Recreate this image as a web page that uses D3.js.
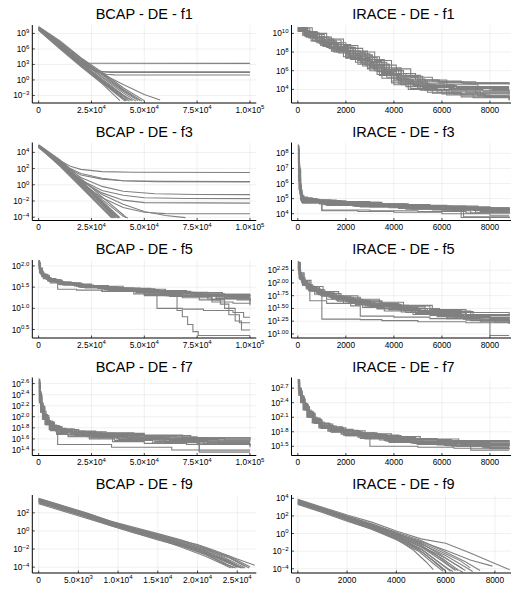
<!DOCTYPE html>
<html lang="en">
<head>
<meta charset="UTF-8" />
<title>BCAP vs IRACE - DE</title>
<script src="https://cdn.jsdelivr.net/npm/d3@7"></script>
<style>
  body { margin: 0; background: #fff; }
  svg { display: block; font-family: "Liberation Sans", Arial, sans-serif; }
</style>
</head>
<body>
<div id="chart"></div>
<script>
// each run: [evaluations, log10(objective value)]
const bcapF1 = [
  [[0,10.3],[10000,7.6],[20000,4.3],[30000,1.5],[40000,-1.5],[50000,-4.0]],
  [[0,10.2],[10000,7.3],[20000,4.0],[30000,1.0],[40000,-2.0],[48000,-4.0]],
  [[0,10.1],[10000,7.0],[20000,3.7],[30000,0.5],[40000,-2.5],[46000,-4.1]],
  [[0,10.0],[10000,6.8],[20000,3.4],[30000,0.2],[40000,-2.9],[44500,-4.0]],
  [[0,9.9],[10000,6.6],[20000,3.2],[30000,-0.1],[40000,-3.2],[43000,-4.1]],
  [[0,9.8],[10000,6.4],[20000,3.0],[30000,-0.3],[40000,-3.5],[42000,-4.0]],
  [[0,9.7],[10000,6.2],[20000,2.8],[30000,-0.5],[40000,-3.8],[41000,-4.1]],
  [[0,9.6],[10000,6.0],[20000,2.6],[30000,-0.7],[38500,-4.0]],
  [[0,10.25],[10000,7.4],[20000,4.1],[30000,1.2],[40000,-1.8],[49000,-4.1]],
  [[0,9.95],[10000,6.7],[20000,3.3],[30000,0.0],[40000,-3.0],[44000,-4.0]],
  [[0,9.75],[10000,6.3],[20000,2.9],[30000,-0.4],[40000,-3.6],[41500,-4.05]],
  [[0,10.15],[10000,7.1],[20000,3.8],[30000,0.7],[40000,-2.2],[47000,-4.0]],
  [[0,10.0],[10000,6.9],[20000,3.6],[30000,1.2],[40000,-0.9],[50000,-2.8],[57500,-3.9]],
  [[0,10.1],[10000,6.8],[17000,4.1],[20000,3.4],[23000,3.22],[100000,3.2]],
  [[0,9.9],[10000,6.5],[20000,3.3],[25000,2.1],[28000,1.7],[32000,1.58],[100000,1.56]],
  [[0,10.0],[10000,6.6],[20000,3.4],[26000,2.0],[30000,1.6],[34000,1.47],[100000,1.45]],
  [[0,10.0],[10000,6.5],[20000,3.2],[27000,1.7],[32000,1.1],[36000,0.98],[100000,0.97]]
];
const iraceF1 = [
  [[0,10.6],[400,10.0],[900,9.3],[1500,8.6],[2100,7.9],[2800,7.0],[3500,6.1],[4200,5.3],[5000,4.8],[6200,4.5],[7500,4.3],[8800,4.3]],
  [[0,10.5],[350,9.8],[800,9.1],[1300,8.4],[2000,7.6],[2600,6.8],[3300,5.9],[4000,5.0],[4800,4.4],[5800,4.0],[7000,3.7],[8800,3.7]],
  [[0,10.3],[500,9.7],[1000,9.0],[1700,8.1],[2300,7.3],[3000,6.4],[3700,5.5],[4300,4.8],[5200,4.2],[6400,3.8],[7600,3.5],[8800,3.5]],
  [[0,10.6],[300,10.2],[800,9.6],[1400,9.0],[2000,8.4],[2700,7.5],[3400,6.6],[4100,5.7],[4900,5.0],[5900,4.7],[7200,4.6],[8800,4.6]],
  [[0,10.2],[450,9.5],[1000,8.8],[1600,8.0],[2200,7.2],[2900,6.3],[3500,5.5],[4200,4.6],[5000,4.0],[6000,3.5],[7300,3.1],[8800,2.9]],
  [[0,10.4],[400,9.9],[1000,9.2],[1600,8.5],[2300,7.8],[3000,6.9],[3600,6.0],[4400,5.1],[5300,4.5],[6500,4.1],[8000,3.9],[8800,3.9]],
  [[0,10.5],[500,9.9],[1100,9.3],[1800,8.5],[2400,7.7],[3100,6.7],[3800,5.7],[4500,4.9],[5400,4.4],[6600,4.2],[8100,4.0],[8800,4.0]],
  [[0,10.3],[350,9.6],[900,8.9],[1400,8.2],[2000,7.4],[2700,6.5],[3300,5.6],[3900,4.7],[4700,4.1],[5600,3.6],[6800,3.2],[8800,2.8]],
  [[0,10.6],[600,10.0],[1200,9.4],[1900,8.7],[2500,8.0],[3200,7.1],[3900,6.2],[4700,5.3],[5600,4.9],[6800,4.7],[8800,4.7]],
  [[0,10.4],[300,9.7],[800,9.0],[1400,8.3],[2100,7.5],[2800,6.6],[3500,5.7],[4200,4.9],[5000,4.3],[6100,3.9],[7400,3.6],[8800,3.4]],
  [[0,10.2],[500,9.6],[1100,8.9],[1700,8.2],[2400,7.3],[3000,6.5],[3600,5.6],[4300,4.5],[5100,3.9],[6200,3.4],[7800,3.2],[8800,3.2]],
  [[0,10.5],[400,10.0],[900,9.4],[1500,8.8],[2200,8.1],[2900,7.2],[3600,6.3],[4300,5.5],[5100,4.6],[6100,4.3],[7600,4.1],[8800,4.1]],
  [[0,10.45],[250,9.9],[600,9.4],[1000,8.9],[1500,8.3],[2000,7.8],[2500,7.1],[3000,6.4],[3500,5.8],[4000,5.2],[4600,4.7],[5400,4.4],[6300,4.1],[7400,3.9],[8800,3.8]],
  [[0,10.35],[200,9.8],[550,9.2],[950,8.7],[1400,8.1],[1900,7.5],[2400,6.9],[2900,6.2],[3400,5.5],[3900,4.9],[4500,4.3],[5300,3.9],[6300,3.6],[7500,3.3],[8800,3.1]],
  [[0,10.55],[300,10.1],[700,9.6],[1100,9.1],[1600,8.6],[2100,8.1],[2600,7.6],[3100,6.9],[3700,6.1],[4300,5.4],[5000,5.0],[5800,4.8],[6900,4.6],[8800,4.5]],
  [[0,10.25],[350,9.7],[750,9.1],[1200,8.5],[1700,7.9],[2200,7.3],[2700,6.7],[3200,6.0],[3700,5.3],[4300,4.6],[5000,4.1],[5800,3.7],[6800,3.4],[8000,3.2],[8800,3.0]],
  [[0,10.5],[280,10.0],[650,9.5],[1050,9.0],[1550,8.4],[2050,7.8],[2550,7.2],[3050,6.6],[3550,5.9],[4100,5.1],[4700,4.6],[5500,4.2],[6500,4.0],[7700,3.8],[8800,3.6]],
  [[0,10.4],[320,9.85],[720,9.3],[1150,8.8],[1650,8.2],[2150,7.6],[2650,6.9],[3150,6.2],[3650,5.6],[4150,5.0],[4800,4.5],[5700,4.3],[6700,4.2],[8800,4.2]],
  [[0,10.3],[260,9.75],[620,9.2],[1050,8.6],[1500,8.0],[2000,7.35],[2500,6.7],[3000,6.0],[3500,5.2],[4000,4.5],[4600,4.0],[5400,3.7],[6500,3.5],[7800,3.3],[8800,3.3]],
  [[0,10.6],[380,10.1],[820,9.6],[1300,9.0],[1800,8.5],[2300,8.0],[2800,7.4],[3300,6.7],[3800,6.0],[4400,5.4],[5200,5.0],[6200,4.8],[7400,4.7],[8800,4.6]]
];
const bcapF3 = [
  [[0,4.9],[10000,2.6],[20000,0.1],[30000,-2.4],[36500,-4.1]],
  [[0,4.7],[10000,2.3],[20000,-0.3],[30000,-2.9],[34500,-4.1]],
  [[0,4.8],[10000,2.5],[20000,-0.1],[30000,-2.7],[35500,-4.1]],
  [[0,4.6],[10000,2.4],[20000,0.0],[30000,-2.5],[36000,-4.05]],
  [[0,4.85],[10000,2.7],[20000,0.3],[30000,-2.1],[38000,-4.1]],
  [[0,4.75],[10000,2.55],[20000,0.25],[30000,-2.2],[37000,-4.0]],
  [[0,4.7],[10000,2.65],[20000,0.5],[30000,-1.8],[40000,-3.9],[42300,-4.1]],
  [[0,4.95],[10000,3.1],[20000,0.8],[30000,-1.5],[40000,-3.7],[41500,-4.1]],
  [[0,4.65],[10000,2.45],[20000,-0.2],[30000,-2.8],[35000,-4.1]],
  [[0,4.8],[10000,2.9],[20000,0.4],[30000,-2.0],[38500,-4.05]],
  [[0,4.75],[10000,2.75],[20000,0.35],[30000,-2.3],[37500,-4.1]],
  [[0,4.9],[5000,3.9],[10000,3.0],[15000,2.3],[20000,1.9],[30000,1.62],[45000,1.54],[100000,1.52]],
  [[0,4.8],[10000,2.9],[15000,2.0],[20000,1.4],[30000,0.8],[40000,0.5],[55000,0.38],[100000,0.35]],
  [[0,4.85],[10000,2.85],[15000,1.9],[20000,1.2],[30000,0.7],[40000,0.5],[60000,0.42],[100000,0.4]],
  [[0,4.7],[10000,2.7],[20000,0.9],[30000,-0.2],[40000,-0.8],[55000,-1.1],[75000,-1.2],[100000,-1.22]],
  [[0,4.75],[10000,2.6],[20000,0.6],[30000,-0.7],[40000,-1.3],[50000,-1.6],[70000,-1.7],[100000,-1.71]],
  [[0,4.8],[10000,2.7],[20000,0.5],[30000,-1.0],[40000,-1.9],[50000,-2.2],[100000,-2.26]],
  [[0,4.7],[10000,2.5],[20000,0.2],[30000,-1.6],[40000,-2.8],[50000,-3.4],[60000,-3.56],[100000,-3.58]],
  [[0,4.85],[10000,2.75],[20000,0.6],[30000,-1.2],[40000,-2.4],[50000,-3.3],[60000,-3.8],[69500,-4.05]]
];
const iraceF3 = [
  [[0,8.55],[30,7.5],[70,6.3],[120,5.3],[200,4.95],[900,4.85],[2000,4.75],[3500,4.6],[5500,4.5],[7500,4.4],[8800,4.35]],
  [[0,8.3],[50,6.8],[100,5.6],[160,4.9],[600,4.8],[1500,4.65],[3000,4.5],[4800,4.4],[6500,4.3],[8800,4.25]],
  [[0,7.8],[40,6.6],[90,5.4],[150,4.8],[1000,4.7],[2200,4.55],[4000,4.45],[6000,4.3],[8000,4.15],[8800,4.15]],
  [[0,8.0],[60,6.4],[110,5.1],[200,4.7],[1200,4.55],[2600,4.45],[4200,4.35],[6000,4.2],[7200,4.05],[8800,4.0]],
  [[0,6.5],[50,5.6],[120,4.95],[500,4.85],[1800,4.7],[3200,4.55],[5000,4.45],[6800,4.35],[8800,4.3]],
  [[0,8.4],[30,7.0],[80,5.8],[140,5.0],[700,4.75],[1000,4.25],[3000,4.2],[5000,4.15],[7000,4.05],[8800,4.0]],
  [[0,7.2],[70,5.8],[130,5.0],[800,4.8],[2000,4.6],[3800,4.5],[5800,4.35],[7800,4.25],[8800,4.2]],
  [[0,8.1],[50,6.7],[100,5.3],[170,4.8],[900,4.65],[2500,4.5],[4500,4.3],[6200,4.15],[6800,3.75],[8800,3.7]],
  [[0,7.5],[40,6.2],[110,5.2],[250,4.9],[1400,4.8],[2800,4.65],[4600,4.5],[6400,4.4],[8200,4.3],[8800,4.3]],
  [[0,8.2],[60,6.9],[120,5.5],[180,4.85],[1100,4.6],[2400,4.5],[4300,4.4],[6300,4.25],[8000,4.1],[8800,4.05]],
  [[0,8.45],[40,7.1],[90,5.9],[150,5.05],[600,4.9],[1600,4.75],[3400,4.6],[5200,4.5],[7000,4.4],[8800,4.35]],
  [[0,7.9],[55,6.4],[100,5.4],[160,4.9],[1000,4.2],[2500,4.15],[4000,4.1],[6000,4.0],[8000,3.9],[8800,3.9]],
  [[0,8.35],[45,7.0],[95,5.7],[150,4.95],[800,4.85],[1800,4.7],[3200,4.55],[5000,4.45],[6800,4.35],[8800,4.25]],
  [[0,7.6],[50,6.3],[100,5.3],[170,4.75],[1000,4.65],[2300,4.5],[3800,4.4],[5600,4.25],[7400,4.1],[8800,4.05]],
  [[0,8.0],[40,6.9],[85,5.8],[140,4.98],[700,4.88],[1700,4.8],[3000,4.65],[4500,4.55],[6200,4.45],[8000,4.35],[8800,4.33]],
  [[0,6.9],[60,5.7],[120,4.9],[600,4.75],[1600,4.6],[3000,4.45],[4700,4.3],[6400,4.2],[6900,3.8],[8800,3.75]],
  [[0,8.5],[35,7.3],[75,6.0],[125,5.1],[400,4.9],[1300,4.78],[2700,4.62],[4300,4.52],[6100,4.4],[7900,4.3],[8800,4.3]],
  [[0,7.4],[55,6.1],[110,5.1],[200,4.8],[1200,4.68],[2600,4.55],[4100,4.45],[5700,4.35],[7300,4.22],[8800,4.18]],
  [[0,8.25],[50,6.9],[100,5.6],[160,4.9],[900,4.8],[2100,4.62],[3600,4.48],[5300,4.38],[7100,4.28],[8800,4.2]],
  [[0,7.7],[45,6.4],[95,5.4],[155,4.85],[1000,4.72],[2400,4.58],[4000,4.42],[5800,4.3],[7600,4.15],[8800,4.1]]
];
const bcapF5 = [
  [[0,2.1],[500,1.9],[1500,1.8],[3500,1.7],[8000,1.62],[15000,1.57],[25000,1.52],[40000,1.45],[60000,1.38],[80000,1.33],[100000,1.31]],
  [[0,2.05],[800,1.85],[2500,1.72],[6000,1.63],[12000,1.55],[22000,1.48],[35000,1.42],[52000,1.36],[70000,1.3],[88000,1.25],[100000,1.25]],
  [[0,2.12],[400,1.95],[1800,1.78],[5000,1.66],[11000,1.58],[20000,1.5],[32000,1.44],[48000,1.38],[65000,1.32],[85000,1.27],[100000,1.27]],
  [[0,2.0],[700,1.82],[2200,1.7],[5500,1.6],[9000,1.45],[18000,1.43],[30000,1.4],[45000,1.34],[62000,1.28],[80000,1.22],[100000,1.2]],
  [[0,2.08],[600,1.88],[2000,1.75],[5000,1.65],[10000,1.58],[18000,1.53],[30000,1.4],[50000,1.33],[68000,1.25],[82000,1.15],[92000,1.12],[100000,1.1]],
  [[0,2.1],[300,1.92],[1200,1.8],[4000,1.68],[9000,1.6],[17000,1.53],[28000,1.47],[42000,1.41],[58000,1.35],[75000,1.3],[90000,1.28],[100000,1.28]],
  [[0,2.02],[500,1.86],[1500,1.75],[4500,1.64],[10000,1.56],[20000,1.5],[33000,1.42],[50000,1.3],[65500,0.95],[68000,0.8],[70500,0.62],[73000,0.45],[75500,0.36],[100000,0.36]],
  [[0,2.06],[700,1.87],[2000,1.76],[5000,1.66],[11000,1.58],[21000,1.51],[34000,1.45],[48000,1.39],[60000,1.3],[76000,1.2],[86000,1.1],[90000,0.85],[95000,0.66],[100000,0.66]],
  [[0,2.04],[450,1.87],[1600,1.76],[4200,1.66],[9500,1.57],[19000,1.5],[31000,1.44],[46000,1.37],[64000,1.28],[82000,1.2],[88000,1.0],[93000,0.7],[96000,0.49],[100000,0.49]],
  [[0,2.09],[550,1.9],[1700,1.78],[4600,1.67],[10500,1.59],[19500,1.52],[30000,1.46],[44000,1.4],[56000,1.0],[68000,0.98],[78000,0.95],[92000,0.9],[97000,0.79],[100000,0.79]],
  [[0,2.03],[650,1.84],[2100,1.73],[5200,1.64],[11500,1.56],[21000,1.49],[34000,1.43],[50000,1.37],[66000,1.3],[84000,1.23],[100000,1.18]],
  [[0,2.11],[350,1.93],[1300,1.79],[3800,1.69],[8500,1.61],[16000,1.55],[26000,1.5],[38000,1.46],[55000,1.4],[72000,1.34],[88000,1.3],[100000,1.29]],
  [[0,2.07],[600,1.89],[1900,1.77],[4800,1.66],[10000,1.6],[20000,1.54],[33000,1.48],[48000,1.42],[64000,1.36],[80000,1.3],[100000,1.26]],
  [[0,2.05],[600,1.87],[1800,1.75],[4500,1.65],[9500,1.58],[18000,1.52],[29000,1.47],[43000,1.41],[60000,1.35],[77000,1.29],[92000,1.24],[100000,1.22]],
  [[0,2.1],[400,1.91],[1400,1.79],[4000,1.68],[9000,1.6],[17000,1.54],[27000,1.49],[40000,1.44],[57000,1.38],[74000,1.32],[90000,1.3],[100000,1.3]],
  [[0,2.0],[750,1.83],[2300,1.72],[5600,1.63],[11500,1.56],[21500,1.5],[34000,1.44],[49000,1.38],[66000,1.31],[84000,1.24],[100000,1.15]],
  [[0,2.06],[520,1.88],[1700,1.77],[4300,1.67],[9800,1.59],[19000,1.53],[30000,1.48],[45000,1.42],[61000,1.36],[78000,1.3],[94000,1.2],[100000,1.07]],
  [[0,2.13],[300,1.95],[1100,1.81],[3300,1.7],[7800,1.62],[15500,1.56],[25000,1.51],[37000,1.47],[53000,1.42],[70000,1.37],[87000,1.33],[100000,1.33]]
];
const iraceF5 = [
  [[0,2.4],[60,2.2],[150,2.05],[300,1.95],[600,1.85],[1000,1.78],[1600,1.7],[2400,1.64],[3400,1.58],[4300,1.5],[5500,1.42],[7000,1.36],[8800,1.35]],
  [[0,2.35],[80,2.15],[200,2.0],[400,1.9],[800,1.8],[1300,1.72],[2000,1.63],[2800,1.55],[3800,1.48],[5000,1.4],[6500,1.33],[8000,1.28],[8800,1.28]],
  [[0,2.3],[50,2.1],[180,1.98],[350,1.88],[700,1.78],[1200,1.68],[1900,1.6],[2700,1.52],[3600,1.45],[4800,1.38],[6200,1.3],[7600,1.24],[8800,1.22]],
  [[0,2.38],[100,2.18],[250,2.02],[500,1.92],[900,1.82],[1500,1.74],[2200,1.66],[3000,1.6],[4100,1.53],[5300,1.46],[6800,1.38],[8800,1.35]],
  [[0,2.25],[70,2.08],[200,1.95],[450,1.85],[1000,1.29],[2600,1.28],[3500,1.26],[5000,1.24],[7000,1.22],[8800,1.2]],
  [[0,2.42],[40,2.25],[120,2.1],[300,1.97],[600,1.87],[1100,1.79],[1800,1.72],[2600,1.65],[3500,1.6],[4200,1.56],[5600,1.45],[7200,1.38],[8800,1.36]],
  [[0,2.33],[90,2.12],[220,1.99],[480,1.88],[950,1.76],[1600,1.66],[2400,1.58],[3300,1.5],[4500,1.42],[5800,1.34],[7200,1.26],[8800,1.2]],
  [[0,2.36],[60,2.16],[160,2.03],[400,1.9],[850,1.8],[1400,1.71],[2100,1.64],[3000,1.56],[4000,1.5],[5400,1.42],[7000,1.33],[8000,0.97],[8800,0.97]],
  [[0,2.28],[80,2.1],[250,1.96],[500,1.86],[1000,1.75],[1700,1.67],[2500,1.6],[3400,1.53],[4400,1.46],[5600,1.39],[7000,1.32],[8800,1.3]],
  [[0,2.4],[110,2.2],[260,2.05],[550,1.93],[1050,1.83],[1700,1.75],[2500,1.68],[3400,1.62],[4400,1.55],[5500,1.48],[7000,1.42],[8800,1.38]],
  [[0,2.32],[70,2.12],[190,2.0],[420,1.9],[500,1.65],[1200,1.6],[2200,1.55],[2600,1.35],[4000,1.33],[5500,1.3],[7000,1.27],[8800,1.25]],
  [[0,2.3],[90,2.1],[220,1.97],[480,1.87],[900,1.79],[1500,1.72],[2300,1.62],[3200,1.55],[4200,1.47],[5400,1.4],[6800,1.34],[8000,1.3],[8800,1.3]],
  [[0,2.37],[70,2.17],[180,2.02],[380,1.92],[750,1.83],[1250,1.75],[1900,1.68],[2700,1.6],[3600,1.53],[4700,1.45],[6000,1.38],[7500,1.32],[8800,1.3]],
  [[0,2.31],[85,2.11],[210,1.98],[460,1.87],[880,1.78],[1450,1.69],[2150,1.61],[3000,1.54],[3900,1.48],[5100,1.41],[6500,1.35],[8000,1.28],[8800,1.26]],
  [[0,2.39],[55,2.19],[140,2.05],[330,1.94],[680,1.84],[1150,1.76],[1800,1.69],[2600,1.63],[3500,1.56],[4600,1.5],[5900,1.44],[7300,1.38],[8800,1.37]],
  [[0,2.27],[100,2.07],[240,1.95],[520,1.84],[1000,1.74],[1650,1.64],[2400,1.57],[3300,1.49],[4300,1.43],[5500,1.36],[6900,1.29],[8200,1.23],[8800,1.21]],
  [[0,2.34],[65,2.14],[170,2.01],[360,1.91],[780,1.81],[1350,1.73],[2000,1.66],[2900,1.58],[3900,1.52],[5000,1.44],[6400,1.37],[7800,1.33],[8800,1.31]],
  [[0,2.29],[75,2.09],[200,1.96],[440,1.86],[860,1.77],[1400,1.69],[2100,1.62],[2900,1.55],[3800,1.47],[4900,1.4],[6200,1.33],[7700,1.27],[8800,1.24]]
];
const bcapF7 = [
  [[0,2.68],[500,2.45],[1200,2.25],[2200,2.1],[3500,1.98],[5000,1.9],[7500,1.82],[11000,1.76],[18000,1.72],[30000,1.68],[50000,1.64],[75000,1.6],[100000,1.6]],
  [[0,2.6],[600,2.35],[1500,2.15],[2800,2.0],[4500,1.88],[7000,1.8],[10000,1.74],[16000,1.69],[26000,1.65],[42000,1.6],[65000,1.56],[85000,1.52],[100000,1.52]],
  [[0,2.55],[400,2.3],[1000,2.12],[2000,1.98],[3500,1.86],[5500,1.78],[9000,1.5],[34000,1.5],[34500,1.45],[62000,1.45],[63000,1.4],[100000,1.4]],
  [[0,2.65],[450,2.4],[1100,2.2],[2100,2.05],[3300,1.93],[5200,1.84],[8000,1.77],[12000,1.72],[20000,1.68],[32000,1.64],[48000,1.6],[70000,1.56],[100000,1.55]],
  [[0,2.58],[550,2.33],[1300,2.15],[2500,2.0],[4000,1.88],[6500,1.79],[10000,1.72],[17000,1.66],[28000,1.62],[44000,1.58],[60000,1.54],[80000,1.5],[100000,1.48]],
  [[0,2.5],[350,2.28],[900,2.1],[1800,1.96],[3000,1.86],[5000,1.77],[8500,1.7],[14000,1.65],[24000,1.62],[38000,1.59],[55000,1.55],[76000,1.38],[100000,1.38]],
  [[0,2.62],[700,2.38],[1600,2.18],[3000,2.02],[4800,1.9],[7200,1.82],[11000,1.77],[19000,1.73],[32000,1.7],[50000,1.66],[72000,1.62],[100000,1.6]],
  [[0,2.45],[400,2.25],[1000,2.08],[2000,1.95],[3400,1.85],[5500,1.75],[8500,1.68],[14000,1.64],[24000,1.6],[36000,1.57],[54000,1.53],[76000,1.36],[100000,1.36]],
  [[0,2.66],[500,2.42],[1400,2.2],[2600,2.04],[4200,1.92],[6800,1.83],[10500,1.78],[17000,1.74],[27000,1.71],[45000,1.67],[68000,1.62],[100000,1.58]],
  [[0,2.55],[650,2.3],[1500,2.12],[2700,1.99],[4300,1.88],[6800,1.8],[10000,1.72],[15000,1.68],[25000,1.64],[35000,1.55],[50000,1.52],[70000,1.5],[100000,1.47]],
  [[0,2.6],[500,2.36],[1200,2.17],[2300,2.02],[3800,1.9],[6000,1.82],[9500,1.76],[16000,1.71],[27000,1.67],[40000,1.63],[60000,1.59],[85000,1.56],[100000,1.56]],
  [[0,2.52],[420,2.3],[1050,2.12],[2100,1.98],[3600,1.87],[5700,1.79],[9000,1.73],[15000,1.7],[26000,1.66],[40000,1.62],[62000,1.57],[80000,1.53],[100000,1.53]],
  [[0,2.64],[480,2.4],[1150,2.21],[2200,2.05],[3600,1.93],[5600,1.85],[8500,1.79],[13000,1.74],[22000,1.7],[36000,1.66],[56000,1.62],[78000,1.58],[100000,1.57]],
  [[0,2.57],[600,2.32],[1400,2.14],[2600,2.0],[4100,1.89],[6400,1.81],[9800,1.75],[16000,1.7],[26000,1.66],[39000,1.62],[58000,1.58],[80000,1.54],[100000,1.54]],
  [[0,2.48],[380,2.27],[950,2.1],[1900,1.97],[3200,1.87],[5200,1.79],[8200,1.73],[13500,1.68],[23000,1.64],[37000,1.6],[57000,1.56],[78000,1.51],[100000,1.5]],
  [[0,2.63],[550,2.38],[1300,2.19],[2400,2.04],[3900,1.92],[6200,1.84],[9700,1.78],[16000,1.73],[27000,1.69],[43000,1.65],[65000,1.61],[88000,1.58],[100000,1.58]],
  [[0,2.53],[450,2.29],[1100,2.11],[2200,1.97],[3700,1.86],[5900,1.78],[9200,1.72],[15000,1.67],[25000,1.63],[38000,1.59],[56000,1.55],[75000,1.51],[100000,1.45]]
];
const iraceF7 = [
  [[0,2.88],[50,2.7],[120,2.55],[220,2.4],[350,2.25],[550,2.1],[800,2.0],[1100,1.92],[1600,1.85],[2300,1.78],[3200,1.72],[4300,1.66],[5800,1.62],[7400,1.6],[8800,1.6]],
  [[0,2.8],[70,2.62],[160,2.46],[280,2.3],[450,2.15],[700,2.02],[1000,1.93],[1500,1.84],[2100,1.77],[2900,1.7],[4000,1.63],[5200,1.58],[6800,1.54],[8800,1.5]],
  [[0,2.84],[60,2.66],[140,2.5],[250,2.34],[420,2.18],[650,2.05],[950,1.9],[1400,1.8],[2000,1.72],[2800,1.65],[3800,1.58],[5000,1.54],[6600,1.5],[8000,1.46],[8800,1.46]],
  [[0,2.75],[50,2.58],[130,2.42],[240,2.27],[400,2.12],[620,2.0],[900,1.92],[1300,1.86],[1900,1.8],[2700,1.74],[3700,1.68],[4900,1.64],[6400,1.6],[8800,1.58]],
  [[0,2.86],[80,2.64],[180,2.48],[300,2.32],[480,2.18],[720,2.05],[1000,1.96],[1450,1.88],[2000,1.82],[2800,1.76],[3900,1.7],[5100,1.65],[6700,1.62],[8800,1.6]],
  [[0,2.78],[60,2.6],[150,2.44],[260,2.28],[430,2.12],[660,1.99],[950,1.88],[1350,1.8],[1900,1.73],[2600,1.66],[3000,1.5],[4000,1.5],[5000,1.48],[6500,1.46],[8800,1.44]],
  [[0,2.82],[70,2.64],[170,2.47],[290,2.31],[460,2.16],[700,2.03],[980,1.94],[1400,1.85],[2000,1.77],[2700,1.71],[3600,1.65],[4700,1.6],[6000,1.56],[7300,1.52],[8800,1.5]],
  [[0,2.7],[50,2.55],[120,2.4],[220,2.25],[380,2.1],[600,1.98],[880,1.88],[1250,1.81],[1800,1.75],[2500,1.69],[3400,1.63],[4500,1.58],[5800,1.53],[7200,1.42],[8800,1.42]],
  [[0,2.85],[60,2.68],[150,2.52],[270,2.36],[430,2.2],[660,2.07],[950,1.97],[1350,1.88],[1900,1.81],[2600,1.75],[3500,1.69],[4600,1.63],[6200,1.58],[8000,1.55],[8800,1.55]],
  [[0,2.8],[75,2.62],[170,2.45],[290,2.29],[460,2.14],[700,2.01],[1000,1.91],[1400,1.83],[1950,1.76],[2700,1.7],[3700,1.64],[4900,1.57],[6300,1.52],[7800,1.48],[8800,1.48]],
  [[0,2.88],[55,2.7],[130,2.54],[240,2.38],[400,2.22],[620,2.08],[900,1.98],[1300,1.9],[1850,1.83],[2500,1.78],[3300,1.73],[4200,1.58],[5500,1.56],[7000,1.54],[8800,1.53]],
  [[0,2.76],[65,2.58],[155,2.42],[270,2.26],[440,2.11],[670,1.99],[960,1.89],[1350,1.82],[1950,1.75],[2700,1.68],[3600,1.62],[4700,1.57],[6100,1.52],[7700,1.47],[8800,1.47]],
  [[0,2.83],[60,2.65],[145,2.49],[260,2.33],[420,2.17],[640,2.04],[930,1.94],[1330,1.86],[1880,1.79],[2550,1.73],[3450,1.67],[4550,1.61],[5900,1.57],[7500,1.53],[8800,1.52]],
  [[0,2.74],[70,2.57],[160,2.41],[280,2.25],[450,2.1],[690,1.97],[990,1.87],[1400,1.79],[1980,1.72],[2750,1.66],[3750,1.6],[4950,1.55],[6400,1.5],[8000,1.45],[8800,1.44]],
  [[0,2.87],[55,2.69],[135,2.53],[245,2.37],[410,2.21],[630,2.08],[920,1.97],[1320,1.89],[1870,1.82],[2550,1.76],[3450,1.7],[4500,1.64],[5900,1.6],[7600,1.57],[8800,1.56]],
  [[0,2.79],[65,2.61],[155,2.45],[275,2.29],[445,2.13],[680,2.0],[980,1.9],[1380,1.82],[1940,1.74],[2680,1.67],[3650,1.61],[4800,1.56],[6200,1.51],[7900,1.49],[8800,1.49]],
  [[0,2.72],[50,2.56],[125,2.41],[230,2.26],[390,2.11],[610,1.99],[890,1.9],[1280,1.83],[1820,1.77],[2520,1.71],[3420,1.66],[4520,1.61],[5850,1.57],[7400,1.56],[8800,1.55]]
];
const bcapF9 = [
  [[0,3.5],[3000,2.7],[6000,1.9],[9000,1.0],[12000,0.2],[15000,-0.5],[18000,-1.3],[21000,-2.2],[24000,-3.3],[25500,-4.1]],
  [[0,3.2],[3000,2.3],[6000,1.6],[9000,0.7],[12000,-0.1],[15000,-0.8],[18000,-1.6],[21000,-2.6],[23500,-3.6],[24500,-4.1]],
  [[0,3.4],[3000,2.6],[6000,1.7],[9000,0.9],[12000,0.1],[15000,-0.6],[18000,-1.4],[21000,-2.3],[24000,-3.5],[25000,-4.05]],
  [[0,3.0],[3000,2.2],[6000,1.4],[9000,0.6],[12000,-0.2],[15000,-0.9],[18000,-1.8],[21000,-2.8],[23000,-3.6],[24200,-4.1]],
  [[0,3.6],[3000,2.8],[6000,2.0],[9000,1.1],[12000,0.4],[15000,-0.3],[18000,-1.0],[21000,-1.9],[24000,-2.9],[26500,-4.1]],
  [[0,3.3],[3000,2.5],[6000,1.8],[9000,0.8],[12000,0.0],[15000,-0.7],[18000,-1.5],[21000,-2.4],[24000,-3.6],[25200,-4.0]],
  [[0,3.45],[3000,2.65],[6000,1.85],[9000,1.0],[12000,0.3],[15000,-0.4],[18000,-1.1],[20000,-1.5],[22000,-2.1],[25000,-3.1],[27200,-3.8]],
  [[0,3.1],[3000,2.4],[6000,1.5],[9000,0.6],[12000,-0.2],[15000,-1.0],[18000,-1.7],[21000,-2.6],[23500,-3.7],[24800,-4.1]],
  [[0,3.35],[3000,2.55],[6000,1.75],[9000,0.95],[12000,0.15],[15000,-0.55],[18000,-1.35],[21000,-2.1],[24000,-3.0],[26000,-3.9]],
  [[0,3.25],[3000,2.45],[6000,1.65],[9000,0.75],[12000,0.0],[15000,-0.75],[18000,-1.55],[21000,-2.5],[23800,-3.5],[25800,-4.1]],
  [[0,3.5],[3000,2.75],[6000,1.95],[9000,1.1],[12000,0.25],[15000,-0.45],[18000,-1.2],[21000,-2.0],[24000,-2.8],[26600,-3.95]],
  [[0,3.3],[3000,2.5],[6000,1.7],[9000,0.85],[12000,0.05],[15000,-0.65],[18000,-1.45],[21000,-2.35],[24000,-3.4],[25600,-4.1]],
  [[0,3.15],[3000,2.35],[6000,1.55],[9000,0.7],[12000,-0.1],[15000,-0.85],[18000,-1.65],[21000,-2.55],[23700,-3.7],[24700,-4.05]],
  [[0,3.55],[3000,2.75],[6000,1.9],[9000,1.05],[12000,0.3],[15000,-0.4],[18000,-1.15],[21000,-2.0],[24000,-3.2],[26000,-4.1]],
  [[0,3.4],[3000,2.6],[6000,1.8],[9000,0.9],[12000,0.15],[15000,-0.6],[18000,-1.4],[21000,-2.3],[24000,-3.4],[25400,-4.05]]
];
const iraceF9 = [
  [[0,3.8],[1000,2.9],[2000,2.0],[3000,1.1],[4000,0.1],[5000,-1.1],[5800,-2.4],[6400,-3.5],[6800,-4.2]],
  [[0,3.5],[1000,2.6],[2000,1.7],[3000,0.8],[4000,-0.3],[4800,-1.6],[5400,-2.9],[5900,-4.1]],
  [[0,3.6],[1000,2.7],[2000,1.8],[3000,0.9],[4000,-0.1],[5000,-1.3],[5700,-2.6],[6200,-3.7],[6500,-4.2]],
  [[0,3.3],[1000,2.4],[2000,1.4],[3000,0.5],[4000,-0.6],[4700,-1.9],[5200,-3.2],[5500,-4.1]],
  [[0,3.9],[1000,3.0],[2000,2.1],[3000,1.3],[4000,0.3],[5000,-0.6],[6000,-1.1],[7000,-2.2],[8000,-3.4],[8600,-4.1]],
  [[0,3.7],[1000,2.8],[2000,1.9],[3000,1.0],[4000,0.0],[5000,-0.9],[6000,-1.9],[7000,-3.0],[7900,-3.7]],
  [[0,3.4],[1000,2.5],[2000,1.6],[3000,0.7],[4000,-0.4],[5000,-1.7],[5600,-3.0],[6100,-4.0],[6300,-4.3]],
  [[0,3.55],[1000,2.65],[2000,1.75],[3000,0.85],[4000,-0.2],[5000,-1.4],[6000,-2.8],[6700,-4.0]],
  [[0,3.75],[1000,2.85],[2000,1.95],[3000,1.05],[4000,0.15],[5000,-0.8],[6000,-2.1],[6800,-3.2],[7400,-4.2]],
  [[0,3.45],[1000,2.55],[2000,1.55],[3000,0.6],[4000,-0.5],[4900,-1.8],[5600,-3.3],[6000,-4.2]],
  [[0,3.65],[1000,2.75],[2000,1.85],[3000,0.95],[4000,-0.05],[5000,-1.0],[6000,-2.3],[6600,-3.1],[7000,-3.9]],
  [[0,3.5],[1000,2.6],[2000,1.6],[3000,0.7],[4000,-0.3],[5000,-1.5],[5800,-3.0],[6400,-4.2]],
  [[0,3.6],[1000,2.7],[2000,1.7],[3000,0.7],[4000,-0.4],[5000,-1.8],[5700,-3.2],[6200,-4.3]],
  [[0,3.4],[1000,2.5],[2000,1.5],[3000,0.5],[4000,-0.7],[4900,-2.0],[5500,-3.4],[5900,-4.3]],
  [[0,3.7],[1000,2.8],[2000,1.8],[3000,0.8],[4000,-0.3],[5000,-1.5],[5900,-2.9],[6500,-4.1],[6700,-4.4]],
  [[0,3.5],[1000,2.6],[2000,1.6],[3000,0.6],[4000,-0.6],[5000,-2.0],[5700,-3.5],[6000,-4.3]],
  [[0,3.8],[1000,2.9],[2000,1.9],[3000,1.0],[4000,-0.1],[5000,-1.2],[6000,-2.5],[6800,-3.8],[7100,-4.3]]
];

// tick values and labels ([base, superscript])
const xTicksBcap = [0, 25000, 50000, 75000, 100000];
const xLabelsBcap = [["0",""],["2.5×10","4"],["5.0×10","4"],["7.5×10","4"],["1.0×10","5"]];
const xTicksBcapF9 = [0, 5000, 10000, 15000, 20000, 25000];
const xLabelsBcapF9 = [["0",""],["5.0×10","3"],["1.0×10","4"],["1.5×10","4"],["2.0×10","4"],["2.5×10","4"]];
const xTicksIrace = [0, 2000, 4000, 6000, 8000];
const xLabelsIrace = [["0",""],["2000",""],["4000",""],["6000",""],["8000",""]];

const yTicksBcapF1 = [9, 6, 3, 0, -3];
const yLabelsBcapF1 = ["9", "6", "3", "0", "−3"];
const yTicksIraceF1 = [10, 8, 6, 4];
const yLabelsIraceF1 = ["10", "8", "6", "4"];
const yTicksBcapF3 = [4, 2, 0, -2, -4];
const yLabelsBcapF3 = ["4", "2", "0", "−2", "−4"];
const yTicksIraceF3 = [8, 7, 6, 5, 4];
const yLabelsIraceF3 = ["8", "7", "6", "5", "4"];
const yTicksBcapF5 = [2.0, 1.5, 1.0, 0.5];
const yLabelsBcapF5 = ["2.0", "1.5", "1.0", "0.5"];
const yTicksIraceF5 = [2.25, 2.0, 1.75, 1.5, 1.25, 1.0];
const yLabelsIraceF5 = ["2.25", "2.00", "1.75", "1.50", "1.25", "1.00"];
const yTicksBcapF7 = [2.6, 2.4, 2.2, 2.0, 1.8, 1.6, 1.4];
const yLabelsBcapF7 = ["2.6", "2.4", "2.2", "2.0", "1.8", "1.6", "1.4"];
const yTicksIraceF7 = [2.7, 2.4, 2.1, 1.8, 1.5];
const yLabelsIraceF7 = ["2.7", "2.4", "2.1", "1.8", "1.5"];
const yTicksBcapF9 = [2, 0, -2, -4];
const yLabelsBcapF9 = ["2", "0", "−2", "−4"];
const yTicksIraceF9 = [4, 2, 0, -2, -4];
const yLabelsIraceF9 = ["4", "2", "0", "−2", "−4"];

const titles = ["BCAP - DE - f1", "IRACE - DE - f1", "BCAP - DE - f3", "IRACE - DE - f3",
  "BCAP - DE - f5", "IRACE - DE - f5", "BCAP - DE - f7", "IRACE - DE - f7",
  "BCAP - DE - f9", "IRACE - DE - f9"];

// axis limits (x in evaluations, y in log10)
const panels = [
  { runs: bcapF1, step: false, xDom: [-3000, 103000], yLim: [-4.46, 10.63], xt: xTicksBcap, xl: xLabelsBcap, yt: yTicksBcapF1, yl: yLabelsBcapF1 },
  { runs: iraceF1, step: true, xDom: [-264, 9064], yLim: [2.54, 10.9], xt: xTicksIrace, xl: xLabelsIrace, yt: yTicksIraceF1, yl: yLabelsIraceF1 },
  { runs: bcapF3, step: false, xDom: [-3000, 103000], yLim: [-4.41, 5.22], xt: xTicksBcap, xl: xLabelsBcap, yt: yTicksBcapF3, yl: yLabelsBcapF3 },
  { runs: iraceF3, step: true, xDom: [-264, 9064], yLim: [3.55, 8.72], xt: xTicksIrace, xl: xLabelsIrace, yt: yTicksIraceF3, yl: yLabelsIraceF3 },
  { runs: bcapF5, step: true, xDom: [-3000, 103000], yLim: [0.3, 2.14], xt: xTicksBcap, xl: xLabelsBcap, yt: yTicksBcapF5, yl: yLabelsBcapF5 },
  { runs: iraceF5, step: true, xDom: [-264, 9064], yLim: [0.92, 2.45], xt: xTicksIrace, xl: xLabelsIrace, yt: yTicksIraceF5, yl: yLabelsIraceF5 },
  { runs: bcapF7, step: true, xDom: [-3000, 103000], yLim: [1.3, 2.71], xt: xTicksBcap, xl: xLabelsBcap, yt: yTicksBcapF7, yl: yLabelsBcapF7 },
  { runs: iraceF7, step: true, xDom: [-264, 9064], yLim: [1.31, 2.92], xt: xTicksIrace, xl: xLabelsIrace, yt: yTicksIraceF7, yl: yLabelsIraceF7 },
  { runs: bcapF9, step: false, xDom: [-800, 27400], yLim: [-4.65, 3.97], xt: xTicksBcapF9, xl: xLabelsBcapF9, yt: yTicksBcapF9, yl: yLabelsBcapF9 },
  { runs: iraceF9, step: false, xDom: [-257, 8837], yLim: [-4.48, 4.38], xt: xTicksIrace, xl: xLabelsIrace, yt: yTicksIraceF9, yl: yLabelsIraceF9 }
];

const W = 511, H = 589;
const colLeft = [32.3, 291.5], plotW = 224;
const rowPitch = 117.5, plotTop = 25, plotH = 78;

const svg = d3.select("#chart").append("svg")
  .attr("width", W).attr("height", H);

panels.forEach((p, i) => {
  const col = i % 2, row = Math.floor(i / 2);
  const left = colLeft[col], top = row * rowPitch + plotTop, bottom = top + plotH;

  const x = d3.scaleLinear().domain(p.xDom).range([left, left + plotW]);
  const y = d3.scaleLog().domain([10 ** p.yLim[0], 10 ** p.yLim[1]]).range([bottom, top]);

  const g = svg.append("g");

  // title
  g.append("text")
    .attr("x", left + plotW / 2).attr("y", row * rowPitch + 19)
    .attr("text-anchor", "middle")
    .style("font-size", "14.5px").style("fill", "#000")
    .text(titles[i]);

  // grid
  g.selectAll(".gx").data(p.xt).join("line")
    .attr("x1", d => x(d)).attr("x2", d => x(d))
    .attr("y1", top).attr("y2", bottom)
    .attr("stroke", "#000").attr("stroke-opacity", 0.1).attr("stroke-width", 0.6);
  g.selectAll(".gy").data(p.yt).join("line")
    .attr("x1", left).attr("x2", left + plotW)
    .attr("y1", d => y(10 ** d)).attr("y2", d => y(10 ** d))
    .attr("stroke", "#000").attr("stroke-opacity", 0.1).attr("stroke-width", 0.6);

  // runs
  const clipId = "clip" + i;
  svg.append("clipPath").attr("id", clipId)
    .append("rect").attr("x", left).attr("y", top).attr("width", plotW).attr("height", plotH);

  const line = d3.line()
    .x(d => x(d[0]))
    .y(d => y(10 ** d[1]))
    .curve(p.step ? d3.curveStepAfter : d3.curveLinear);

  g.append("g").attr("clip-path", `url(#${clipId})`)
    .selectAll("path").data(p.runs).join("path")
    .attr("d", line)
    .attr("fill", "none")
    .attr("stroke", "#808080")
    .attr("stroke-width", 1.1);

  // axes lines
  g.append("line").attr("x1", left).attr("x2", left).attr("y1", top).attr("y2", bottom)
    .attr("stroke", "#000").attr("stroke-width", 1);
  g.append("line").attr("x1", left).attr("x2", left + plotW).attr("y1", bottom).attr("y2", bottom)
    .attr("stroke", "#000").attr("stroke-width", 1);

  // tick marks (inward)
  g.selectAll(".tx").data(p.xt).join("line")
    .attr("x1", d => x(d)).attr("x2", d => x(d))
    .attr("y1", bottom).attr("y2", bottom - 2.5)
    .attr("stroke", "#000").attr("stroke-width", 0.7);
  g.selectAll(".ty").data(p.yt).join("line")
    .attr("x1", left).attr("x2", left + 2.5)
    .attr("y1", d => y(10 ** d)).attr("y2", d => y(10 ** d))
    .attr("stroke", "#000").attr("stroke-width", 0.7);

  // x tick labels
  const xl = g.selectAll(".xl").data(p.xt).join("text")
    .attr("x", d => x(d)).attr("y", bottom + 9.5)
    .attr("text-anchor", "middle")
    .style("font-size", "8.3px").style("fill", "#000");
  xl.each(function (d, k) {
    const t = d3.select(this);
    t.append("tspan").text(p.xl[k][0]);
    if (p.xl[k][1]) {
      t.append("tspan").attr("dy", -3.2).style("font-size", "6px").text(p.xl[k][1]);
    }
  });

  // y tick labels (10^e)
  const yl = g.selectAll(".yl").data(p.yt).join("text")
    .attr("x", left - 3).attr("y", d => y(10 ** d) + 3)
    .attr("text-anchor", "end")
    .style("font-size", "8.3px").style("fill", "#000");
  yl.each(function (d, k) {
    const t = d3.select(this);
    t.append("tspan").text("10");
    t.append("tspan").attr("dy", -3.2).style("font-size", "6px").text(p.yl[k]);
  });
});
</script>
</body>
</html>
